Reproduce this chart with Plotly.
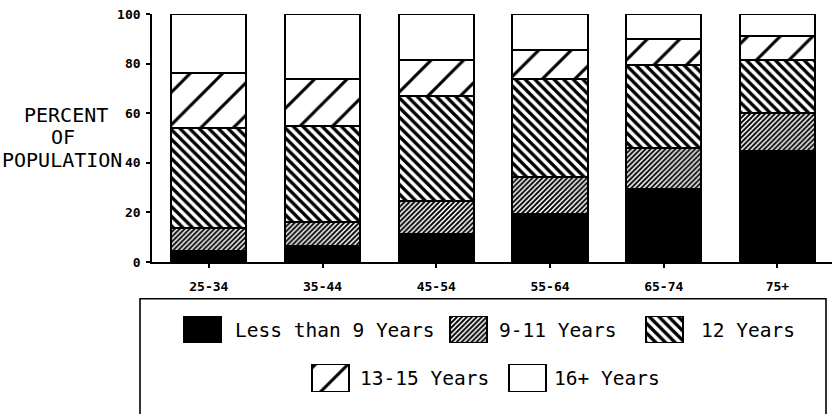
import plotly.graph_objects as go

# Educational attainment by age group (percent of population)
age_groups = ["25-34", "35-44", "45-54", "55-64", "65-74", "75+"]
less_than_9 = [4.6, 6.6, 11.2, 19.2, 29.5, 44.9]
years_9_11 = [9.0, 9.5, 13.2, 15.2, 16.5, 15.2]
years_12 = [40.6, 38.7, 42.6, 39.2, 33.5, 21.4]
years_13_15 = [22.1, 18.9, 14.5, 12.0, 10.6, 9.6]
years_16_plus = [23.7, 26.3, 18.5, 14.4, 9.9, 8.9]
y_ticks = [0, 20, 40, 60, 80, 100]

series_names = ["Less than 9 Years", "9-11 Years", "12 Years", "13-15 Years", "16+ Years"]
series_values = [less_than_9, years_9_11, years_12, years_13_15, years_16_plus]

# Fill style per series: (fill colour, pattern shape, pattern size, solidity)
series_styles = [
    ("black", "", 8, 0.3),
    ("white", "/", 3.5, 0.55),
    ("white", "\\", 6.8, 0.48),
    ("white", "/", 23, 0.13),
    ("white", "", 8, 0.3),
]

W, H = 832, 414
ML, MR, MT, MB = 152, 0, 14, 0
PW, PH = W - ML - MR, H - MT - MB


def px_x(p):
    return (p - ML) / PW


def px_y(p):
    return (H - MB - p) / PH


MONO = "DejaVu Sans Mono"


def marker_for(style, line_w):
    color, shape, size, solidity = style
    m = dict(color=color, line=dict(color="black", width=line_w))
    if shape:
        m["pattern"] = dict(shape=shape, size=size, solidity=solidity,
                            fgcolor="black", bgcolor=color, fillmode="replace")
    return m


fig = go.Figure()

for name, vals, style in zip(series_names, series_values, series_styles):
    fig.add_trace(go.Bar(
        x=age_groups, y=vals, name=name, width=0.66,
        marker=marker_for(style, 2.4),
        showlegend=False, hoverinfo="name+y",
    ))

# Legend drawn in its own pixel-scaled axes below the chart
legend_swatch_x = [185, 451, 647, 313, 510]
legend_text_x = [233, 497, 699, 358, 552]
legend_row = [0, 0, 0, 1, 1]
legend_row_center = [336.5, 386]
SW_W, SW_H = 37, 27
LEG_TOP = 0.27
leg_top_px = H - MB - LEG_TOP * PH

for i, (name, style) in enumerate(zip(series_names, series_styles)):
    cy = legend_row_center[legend_row[i]]
    fig.add_trace(go.Bar(
        x=[legend_swatch_x[i] + SW_W / 2], y=[SW_H], base=[cy - SW_H / 2],
        width=[SW_W], xaxis="x2", yaxis="y2",
        marker=marker_for(style, 1.6), showlegend=False, hoverinfo="skip",
    ))
    fig.add_annotation(
        x=legend_text_x[i], y=cy, xref="x2", yref="y2", text=name,
        showarrow=False, xanchor="left", yanchor="middle",
        font=dict(family=MONO, size=19.5, color="black"),
    )

# Legend frame
fig.add_shape(type="rect", xref="paper", yref="paper",
              x0=px_x(140), x1=px_x(826), y0=px_y(430), y1=px_y(304.5),
              line=dict(color="black", width=1.6), fillcolor="rgba(0,0,0,0)",
              layer="below")

# Y-axis title, one line per annotation
for text, cx, cy in [("PERCENT", 66, 117), ("OF", 62.5, 140), ("POPULATION", 61.7, 163)]:
    fig.add_annotation(
        x=px_x(cx), y=px_y(cy), xref="paper", yref="paper", text=text,
        showarrow=False, xanchor="center", yanchor="middle",
        font=dict(family=MONO, size=20, color="black"),
    )

tick_font = dict(family=MONO, size=13, color="black", weight="bold")

fig.update_layout(
    width=W, height=H,
    margin=dict(l=ML, r=MR, t=MT, b=MB, pad=0),
    paper_bgcolor="white", plot_bgcolor="white",
    barmode="stack", bargap=0,
    showlegend=False,
    xaxis=dict(
        type="category", range=[-0.5, 5.48], domain=[0, 1], anchor="y",
        showline=True, linecolor="black", linewidth=1.6,
        ticks="outside", ticklen=4, tickwidth=1.5, tickcolor="black",
        tickfont=tick_font, ticklabelstandoff=8,
        showgrid=False, zeroline=False, fixedrange=True,
    ),
    yaxis=dict(
        range=[0, 100], domain=[px_y(267), 1], anchor="x",
        tickvals=y_ticks, ticktext=[str(v) for v in y_ticks],
        showline=True, linecolor="black", linewidth=1.6,
        ticks="outside", ticklen=4, tickwidth=1.5, tickcolor="black",
        tickfont=tick_font, ticklabelstandoff=3,
        showgrid=False, zeroline=False, fixedrange=True,
    ),
    yaxis3=dict(
        range=[0, 100], overlaying="y", anchor="x", side="left",
        tickvals=y_ticks, ticks="inside", ticklen=4, tickwidth=1.5,
        tickcolor="black", showticklabels=False, showline=False,
        showgrid=False, zeroline=False, fixedrange=True,
    ),
    xaxis2=dict(range=[ML, W - MR], domain=[0, 1], anchor="y2",
                visible=False, fixedrange=True),
    yaxis2=dict(range=[H - MB, leg_top_px], domain=[0, LEG_TOP], anchor="x2",
                visible=False, fixedrange=True),
)

fig.write_html("out.html")
